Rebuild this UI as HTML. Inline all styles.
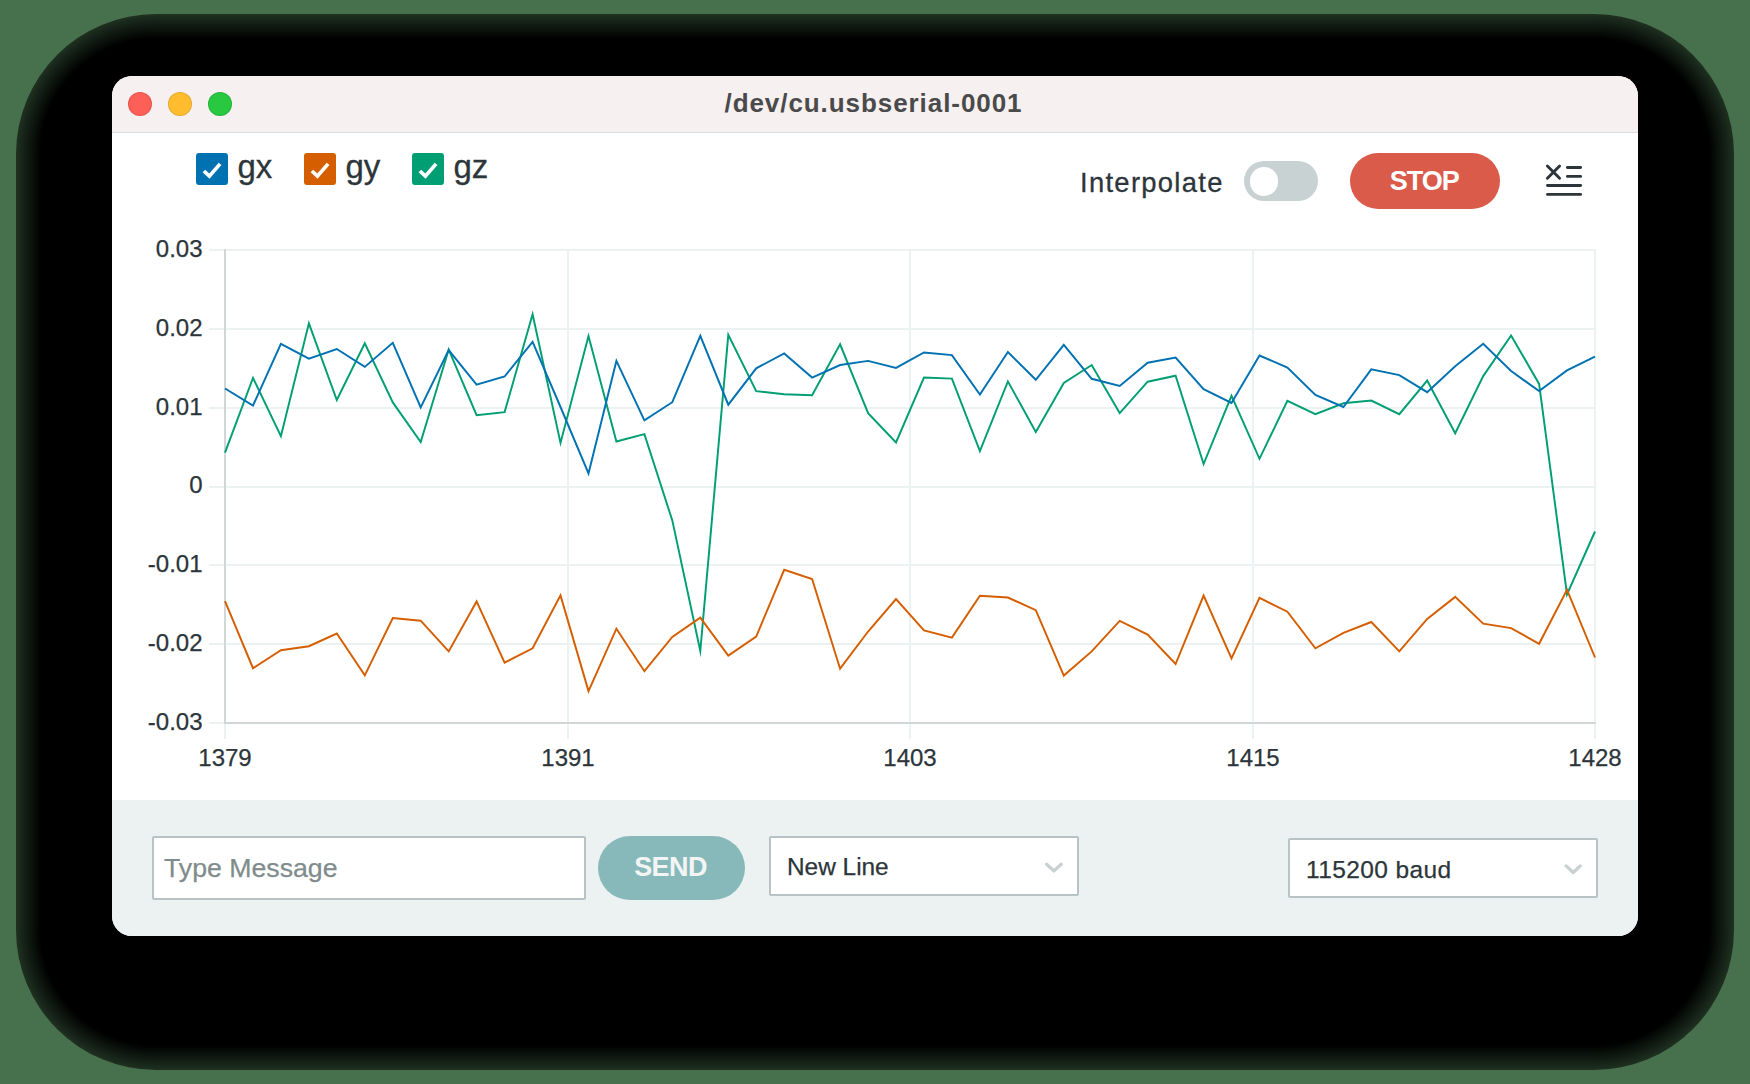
<!DOCTYPE html>
<html><head><meta charset="utf-8"><title>/dev/cu.usbserial-0001</title>
<style>
*{box-sizing:border-box;margin:0;padding:0}
html,body{width:1750px;height:1084px;overflow:hidden;background:rgb(71,112,76);font-family:"Liberation Sans",sans-serif;color:#2c353a}
#bg{position:absolute;left:0;top:0;width:1750px;height:1084px}
#win{position:absolute;left:112px;top:76px;width:1526px;height:860px;border-radius:20px;background:#fff;overflow:hidden}
#tb{position:absolute;left:0;top:0;width:100%;height:57px;background:#f6f0f0;border-bottom:1px solid #d7dbdb}
.tl{position:absolute;top:16px;width:24px;height:24px;border-radius:50%;box-shadow:inset 0 0 0 1px rgba(0,0,0,0.1)}
#title{position:absolute;left:0;width:100%;padding-right:3px;top:11px;height:32px;line-height:32px;text-align:center;font-weight:bold;font-size:26px;color:#4a4a4a;letter-spacing:0.93px}
#foot{position:absolute;left:0;top:724px;width:100%;height:136px;background:#ecf1f1}
.abs{position:absolute}
.cb{position:absolute;top:153px;width:32px;height:32px;border-radius:3px}
.lg{position:absolute;top:146.7px;-webkit-text-stroke:0.3px #2c353a;height:40px;line-height:40px;font-size:33px;color:#2c353a}
.yl{-webkit-text-stroke:0.25px #2c353a;position:absolute;left:100px;width:102.5px;text-align:right;height:28px;line-height:28px;font-size:24px;color:#2c353a}
.xl{-webkit-text-stroke:0.25px #2c353a;position:absolute;top:743.5px;width:80px;text-align:center;height:28px;line-height:28px;font-size:24px;color:#2c353a}
#chart{position:absolute;left:0;top:0;width:1750px;height:1084px}
</style></head><body>
<svg id="bg" viewBox="0 0 1750 1084">
<rect x="16.0" y="14.0" width="1718.0" height="1056.0" rx="140.0" fill="#1e2f20"/>
<rect x="18.0" y="16.0" width="1714.0" height="1052.0" rx="138.0" fill="#1b2b1d"/>
<rect x="20.0" y="18.0" width="1710.0" height="1048.0" rx="136.0" fill="#19271b"/>
<rect x="22.0" y="20.0" width="1706.0" height="1044.0" rx="134.0" fill="#162318"/>
<rect x="24.0" y="22.0" width="1702.0" height="1040.0" rx="132.0" fill="#141f15"/>
<rect x="26.0" y="24.0" width="1698.0" height="1036.0" rx="130.0" fill="#111b13"/>
<rect x="28.0" y="26.0" width="1694.0" height="1032.0" rx="128.0" fill="#0f1810"/>
<rect x="30.0" y="28.0" width="1690.0" height="1028.0" rx="126.0" fill="#0c140d"/>
<rect x="32.0" y="30.0" width="1686.0" height="1024.0" rx="124.0" fill="#0a100b"/>
<rect x="34.0" y="32.0" width="1682.0" height="1020.0" rx="122.0" fill="#070c08"/>
<rect x="36.0" y="34.0" width="1678.0" height="1016.0" rx="120.0" fill="#050805"/>
<rect x="38.0" y="36.0" width="1674.0" height="1012.0" rx="118.0" fill="#020403"/>
<rect x="40.0" y="38.0" width="1670.0" height="1008.0" rx="116.0" fill="#000000"/>
</svg>
<div id="win">
 <div id="tb">
  <div class="tl" style="left:16px;background:#fe5f57"></div>
  <div class="tl" style="left:56px;background:#febc2e"></div>
  <div class="tl" style="left:96px;background:#28c840"></div>
  <div id="title">/dev/cu.usbserial-0001</div>
 </div>
 <div id="foot"></div>
</div>

<!-- legend -->
<div class="cb" style="left:196px;background:#0072b2"><svg width="32" height="32" viewBox="0 0 32 32"><path d="M7.9 18 L13.4 23.2 L24.1 10.9" fill="none" stroke="#fff" stroke-width="3.7"/></svg></div>
<div class="lg" style="left:237.5px">gx</div>
<div class="cb" style="left:304px;background:#d55e00"><svg width="32" height="32" viewBox="0 0 32 32"><path d="M7.9 18 L13.4 23.2 L24.1 10.9" fill="none" stroke="#fff" stroke-width="3.7"/></svg></div>
<div class="lg" style="left:345.5px">gy</div>
<div class="cb" style="left:412px;background:#009e73"><svg width="32" height="32" viewBox="0 0 32 32"><path d="M7.9 18 L13.4 23.2 L24.1 10.9" fill="none" stroke="#fff" stroke-width="3.7"/></svg></div>
<div class="lg" style="left:453.5px">gz</div>

<!-- controls -->
<div class="abs" id="interp" style="left:1080px;top:163px;height:40px;line-height:40px;font-size:27.4px;letter-spacing:1.3px;-webkit-text-stroke:0.3px #2c353a;color:#2c353a">Interpolate</div>
<div class="abs" style="left:1244px;top:161px;width:74px;height:40px;border-radius:20px;background:#c9d2d2"></div>
<div class="abs" style="left:1249.5px;top:167px;width:28.5px;height:28.5px;border-radius:50%;background:#fff"></div>
<div class="abs" id="stop" style="padding-right:1.5px;left:1350px;top:153px;width:150px;height:55.5px;border-radius:28px;background:#da5b4a;color:#fff;font-weight:bold;font-size:27px;letter-spacing:-1px;text-align:center;line-height:56px">STOP</div>
<svg class="abs" style="left:1540px;top:160px" width="48" height="40" viewBox="1540 160 48 40">
 <g stroke="#2c353a" stroke-width="2.9" stroke-linecap="round" fill="none">
  <path d="M1547.4 166 L1559.6 178.2 M1559.6 166 L1547.4 178.2"/>
  <path d="M1567.4 167.5 H1580.6 M1567.4 176.4 H1580.6 M1547.5 185.5 H1580.6 M1547.5 194.4 H1580.6"/>
 </g>
</svg>

<!-- chart -->
<svg id="chart" viewBox="0 0 1750 1084">
<rect x="209" y="249" width="1387" height="2" fill="#ecf1f1"/>
<rect x="209" y="328" width="1387" height="2" fill="#ecf1f1"/>
<rect x="209" y="407" width="1387" height="2" fill="#ecf1f1"/>
<rect x="209" y="486" width="1387" height="2" fill="#ecf1f1"/>
<rect x="209" y="564" width="1387" height="2" fill="#ecf1f1"/>
<rect x="209" y="643" width="1387" height="2" fill="#ecf1f1"/>
<rect x="209" y="722.0" width="16" height="2" fill="#ecf1f1"/>
<rect x="567" y="249" width="2" height="490" fill="#ecf1f1"/>
<rect x="909" y="249" width="2" height="490" fill="#ecf1f1"/>
<rect x="1252" y="249" width="2" height="490" fill="#ecf1f1"/>
<rect x="1594" y="249" width="2" height="490" fill="#ecf1f1"/>
<rect x="224" y="723" width="2" height="16" fill="#ecf1f1"/>
<rect x="224" y="249" width="2" height="475" fill="#d1d6d6"/>
<rect x="224" y="722" width="1372" height="2" fill="#d1d6d6"/>

<g fill="none" stroke-width="1.95" stroke-linejoin="miter" stroke-miterlimit="10" stroke-linecap="butt">
<polyline stroke="#009e73" points="225.0,452.6 253.0,377.9 280.9,436.2 308.9,323.3 336.8,400.0 364.8,343.3 392.8,402.4 420.7,442.1 448.7,349.5 476.6,415.2 504.6,412.1 532.6,314.3 560.5,442.9 588.5,336.1 616.4,441.5 644.4,434.1 672.3,520.4 700.3,650.9 728.3,334.9 756.2,391.1 784.2,394.2 812.1,395.2 840.1,344.3 868.1,413.1 896.0,442.4 924.0,377.6 951.9,378.6 979.9,451.2 1007.9,381.4 1035.8,432.0 1063.8,382.9 1091.7,365.0 1119.7,413.1 1147.7,381.7 1175.6,375.7 1203.6,464.0 1231.5,395.8 1259.5,458.8 1287.4,400.8 1315.4,414.2 1343.4,403.3 1371.3,400.6 1399.3,414.2 1427.2,380.6 1455.2,433.3 1483.2,376.1 1511.1,335.5 1539.1,383.9 1567.0,594.5 1595.0,531.5"/>
<polyline stroke="#d55e00" points="225.0,601.0 253.0,668.2 280.9,650.3 308.9,646.2 336.8,633.5 364.8,675.4 392.8,618.0 420.7,620.7 448.7,651.4 476.6,601.4 504.6,662.7 532.6,648.3 560.5,595.4 588.5,691.1 616.4,628.7 644.4,671.2 672.3,637.0 700.3,617.7 728.3,655.6 756.2,636.6 784.2,569.8 812.1,579.0 840.1,668.7 868.1,631.5 896.0,599.0 924.0,630.4 951.9,637.6 979.9,595.8 1007.9,597.5 1035.8,610.2 1063.8,675.6 1091.7,651.4 1119.7,620.9 1147.7,634.5 1175.6,664.0 1203.6,595.6 1231.5,658.5 1259.5,597.9 1287.4,611.7 1315.4,648.3 1343.4,632.9 1371.3,622.0 1399.3,651.4 1427.2,618.9 1455.2,596.9 1483.2,623.6 1511.1,628.1 1539.1,643.8 1567.0,589.8 1595.0,657.5"/>
<polyline stroke="#0072b2" points="225.0,388.5 253.0,405.5 280.9,343.8 308.9,358.6 336.8,349.0 364.8,366.9 392.8,342.8 420.7,407.4 448.7,350.1 476.6,384.6 504.6,376.5 532.6,341.9 560.5,407.0 588.5,473.5 616.4,360.9 644.4,420.3 672.3,402.2 700.3,335.8 728.3,404.7 756.2,368.3 784.2,353.5 812.1,377.6 840.1,365.0 868.1,360.9 896.0,367.9 924.0,352.5 951.9,355.1 979.9,394.6 1007.9,352.0 1035.8,379.8 1063.8,344.8 1091.7,378.8 1119.7,386.0 1147.7,362.7 1175.6,357.6 1203.6,389.1 1231.5,402.9 1259.5,355.5 1287.4,367.5 1315.4,395.0 1343.4,407.0 1371.3,369.3 1399.3,375.1 1427.2,392.2 1455.2,366.2 1483.2,343.8 1511.1,371.0 1539.1,391.1 1567.0,370.4 1595.0,356.6"/>
</g>
</svg>
<div class="yl" style="top:235px">0.03</div>
<div class="yl" style="top:314px">0.02</div>
<div class="yl" style="top:393px">0.01</div>
<div class="yl" style="top:471px">0</div>
<div class="yl" style="top:550px">-0.01</div>
<div class="yl" style="top:629px">-0.02</div>
<div class="yl" style="top:708px">-0.03</div>
<div class="xl" style="left:185.0px">1379</div>
<div class="xl" style="left:528.0px">1391</div>
<div class="xl" style="left:870.0px">1403</div>
<div class="xl" style="left:1213.0px">1415</div>
<div class="xl" style="left:1555.0px">1428</div>


<!-- footer controls -->
<div class="abs" style="left:152px;top:836px;width:434px;height:64px;background:#fff;border:2px solid #b9c2c4;border-radius:2px"></div>
<div class="abs" id="ph" style="left:164px;top:848px;height:40px;line-height:40px;font-size:26.7px;-webkit-text-stroke:0.25px #7f8c8d;color:#7f8c8d">Type Message</div>
<div class="abs" id="send" style="padding-right:2px;left:598px;top:836px;width:147px;height:64px;border-radius:32px;background:#88b9ba;color:#f3f5f5;font-weight:bold;font-size:27px;letter-spacing:-0.6px;text-align:center;line-height:63px">SEND</div>
<div class="abs" style="left:769px;top:836px;width:310px;height:60px;background:#fff;border:2px solid #b9c2c4;border-radius:2px"></div>
<div class="abs" id="nl" style="left:787px;top:847px;height:40px;line-height:40px;font-size:24.4px;-webkit-text-stroke:0.25px #2c353a;color:#2c353a">New Line</div>
<svg class="abs" style="left:1040px;top:856px" width="30" height="24" viewBox="1040 856 30 24"><path d="M1046.6 864.2 L1053.9 870.9 L1061.2 864.2" fill="none" stroke="#c8d1d1" stroke-width="3.3" stroke-linecap="round" stroke-linejoin="round"/></svg>
<div class="abs" style="left:1288px;top:838px;width:310px;height:60px;background:#fff;border:2px solid #b9c2c4;border-radius:2px"></div>
<div class="abs" id="bd" style="left:1306px;top:849.5px;height:40px;line-height:40px;font-size:24.5px;letter-spacing:0.4px;-webkit-text-stroke:0.25px #2c353a;color:#2c353a">115200 baud</div>
<svg class="abs" style="left:1559px;top:857px" width="30" height="24" viewBox="1559 857 30 24"><path d="M1566.1 865.9 L1573.2 872.5 L1580.3 865.9" fill="none" stroke="#c8d1d1" stroke-width="3.3" stroke-linecap="round" stroke-linejoin="round"/></svg>
</body></html>
